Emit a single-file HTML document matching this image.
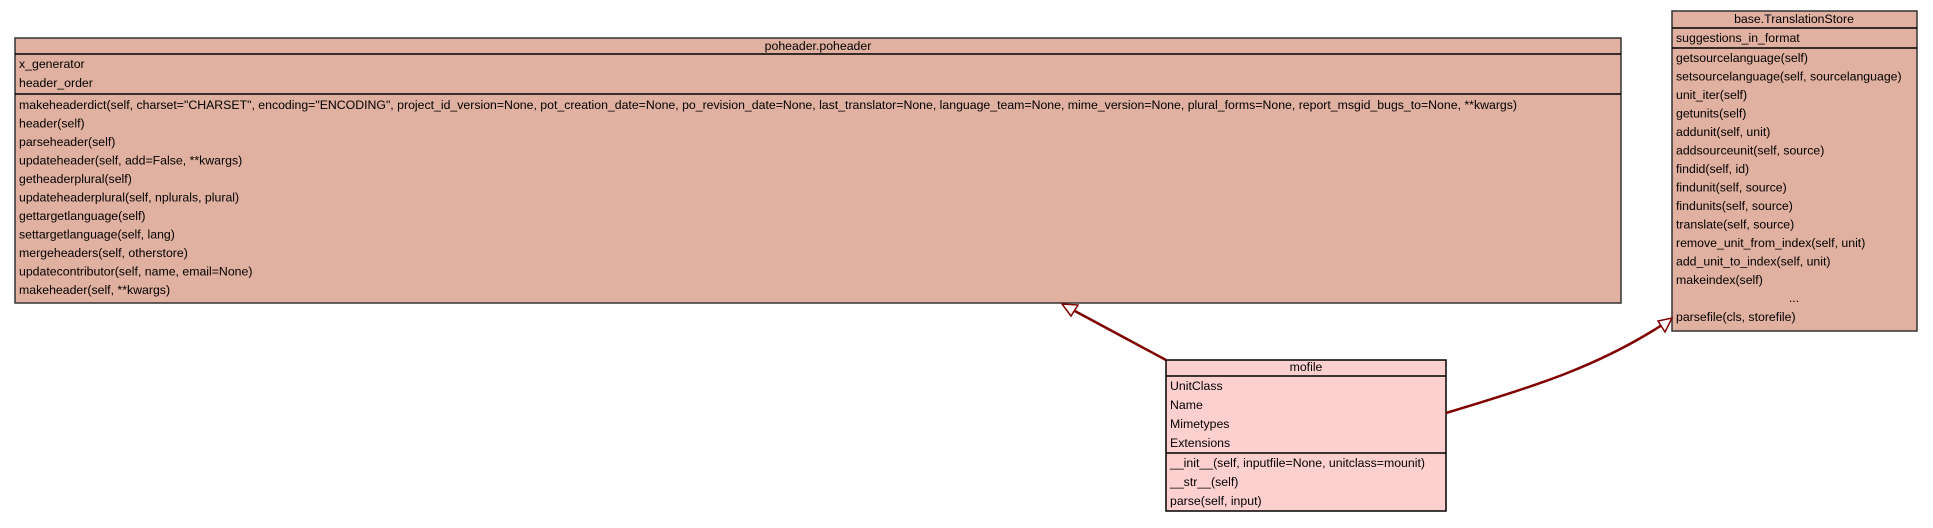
<!DOCTYPE html>
<html><head><meta charset="utf-8"><style>
html,body{margin:0;padding:0;background:#fff;}
svg text{font-family:"Liberation Sans",sans-serif;font-size:12.3px;fill:#000;}
</style></head><body>
<svg width="1933" height="523" viewBox="0 0 1933 523" xmlns="http://www.w3.org/2000/svg">
<!-- poheader -->
<rect x="15" y="38" width="1606" height="265" fill="#e0b0a0" stroke="#333" stroke-width="1.5"/>
<line x1="15" y1="54" x2="1621" y2="54" stroke="#000" stroke-width="1.5"/>
<line x1="15" y1="94" x2="1621" y2="94" stroke="#000" stroke-width="1.5"/>
<text x="818" y="50" text-anchor="middle">poheader.poheader</text>
<text x="19" y="68">x_generator</text>
<text x="19" y="87">header_order</text>
<text x="19" y="109" textLength="1498" lengthAdjust="spacingAndGlyphs">makeheaderdict(self, charset="CHARSET", encoding="ENCODING", project_id_version=None, pot_creation_date=None, po_revision_date=None, last_translator=None, language_team=None, mime_version=None, plural_forms=None, report_msgid_bugs_to=None, **kwargs)</text>
<text x="19" y="127.5">header(self)</text>
<text x="19" y="146">parseheader(self)</text>
<text x="19" y="164.5">updateheader(self, add=False, **kwargs)</text>
<text x="19" y="183">getheaderplural(self)</text>
<text x="19" y="201.5">updateheaderplural(self, nplurals, plural)</text>
<text x="19" y="220">gettargetlanguage(self)</text>
<text x="19" y="238.5">settargetlanguage(self, lang)</text>
<text x="19" y="257">mergeheaders(self, otherstore)</text>
<text x="19" y="275.5">updatecontributor(self, name, email=None)</text>
<text x="19" y="294">makeheader(self, **kwargs)</text>
<!-- TranslationStore -->
<rect x="1672" y="11" width="245" height="320" fill="#e0b0a0" stroke="#333" stroke-width="1.5"/>
<line x1="1672" y1="28" x2="1917" y2="28" stroke="#000" stroke-width="1.5"/>
<line x1="1672" y1="48" x2="1917" y2="48" stroke="#000" stroke-width="1.5"/>
<text x="1794" y="23" text-anchor="middle">base.TranslationStore</text>
<text x="1676" y="42">suggestions_in_format</text>
<text x="1676" y="62">getsourcelanguage(self)</text>
<text x="1676" y="80.5">setsourcelanguage(self, sourcelanguage)</text>
<text x="1676" y="99">unit_iter(self)</text>
<text x="1676" y="117.5">getunits(self)</text>
<text x="1676" y="136">addunit(self, unit)</text>
<text x="1676" y="154.5">addsourceunit(self, source)</text>
<text x="1676" y="173">findid(self, id)</text>
<text x="1676" y="191.5">findunit(self, source)</text>
<text x="1676" y="210">findunits(self, source)</text>
<text x="1676" y="228.5">translate(self, source)</text>
<text x="1676" y="247">remove_unit_from_index(self, unit)</text>
<text x="1676" y="265.5">add_unit_to_index(self, unit)</text>
<text x="1676" y="284">makeindex(self)</text>
<text x="1794" y="302" text-anchor="middle">...</text>
<text x="1676" y="321">parsefile(cls, storefile)</text>
<!-- mofile -->
<rect x="1166" y="360" width="280" height="151" fill="#fdd0d0" stroke="#000" stroke-width="1.5"/>
<line x1="1166" y1="376" x2="1446" y2="376" stroke="#000" stroke-width="1.5"/>
<line x1="1166" y1="453" x2="1446" y2="453" stroke="#000" stroke-width="1.5"/>
<text x="1306" y="371" text-anchor="middle">mofile</text>
<text x="1170" y="390">UnitClass</text>
<text x="1170" y="409">Name</text>
<text x="1170" y="428">Mimetypes</text>
<text x="1170" y="447">Extensions</text>
<text x="1170" y="467">__init__(self, inputfile=None, unitclass=mounit)</text>
<text x="1170" y="486">__str__(self)</text>
<text x="1170" y="505">parse(self, input)</text>
<!-- edges -->
<line x1="1166" y1="360" x2="1073" y2="310" stroke="#800000" stroke-width="2.5"/>
<polygon points="1062,304 1078,305 1071,316" fill="#fff" stroke="#800000" stroke-width="1.5"/>
<path d="M1446,413 C1540,385 1600,365 1662,325" fill="none" stroke="#800000" stroke-width="2.5"/>
<polygon points="1672,318 1665,332 1658,321" fill="#fff" stroke="#800000" stroke-width="1.5"/>
</svg>
</body></html>
